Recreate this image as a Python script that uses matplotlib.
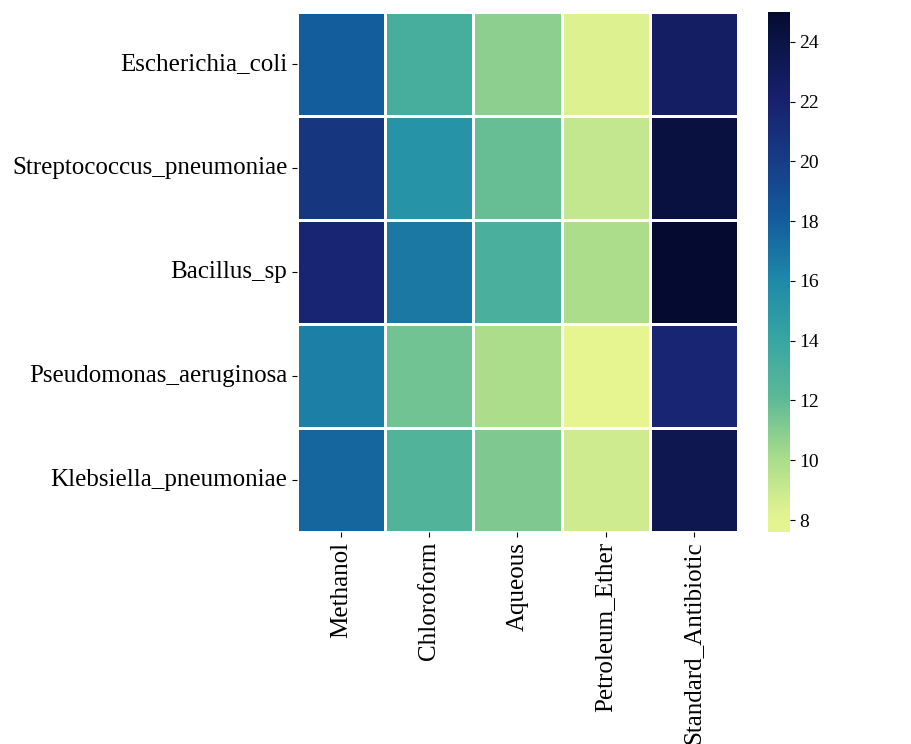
import numpy as np
import matplotlib
matplotlib.use("Agg")
import matplotlib.pyplot as plt
from matplotlib.colors import LinearSegmentedColormap
import seaborn as sns

bacteria = ["Escherichia_coli", "Streptococcus_pneumoniae", "Bacillus_sp",
            "Pseudomonas_aeruginosa", "Klebsiella_pneumoniae"]
extracts = ["Methanol", "Chloroform", "Aqueous", "Petroleum_Ether", "Standard_Antibiotic"]

# zone of inhibition values
methanol = [18.0, 20.5, 21.7, 16.4, 17.6]
chloroform = [13.2, 15.3, 16.8, 11.5, 12.7]
aqueous = [10.8, 11.8, 13.1, 10.0, 11.2]
petroleum_ether = [8.3, 9.2, 10.0, 7.6, 8.8]
standard_antibiotic = [22.5, 24.3, 25.0, 21.7, 23.5]

data = np.array([methanol, chloroform, aqueous, petroleum_ether, standard_antibiotic]).T

# YlGnBu-like colours as they look in the picture (a bit more saturated)
cb_vals = [7.5, 8, 10, 12, 14, 16, 18, 20, 22, 24, 25]
cb_cols = ["#e6f590", "#e2f391", "#a8dc8b", "#5cb996", "#37a5a3", "#1e88a8",
           "#135d9c", "#173c86", "#18216e", "#0a1446", "#050b30"]
lo, hi = cb_vals[0], cb_vals[-1]
cmap = LinearSegmentedColormap.from_list(
    "ylgnbu_pic", [((v - lo) / (hi - lo), c) for v, c in zip(cb_vals, cb_cols)])

plt.rcParams['font.family'] = ['Liberation Serif', 'DejaVu Serif']

fig = plt.figure(figsize=(9.11, 7.44), dpi=100)
ax = fig.add_axes([0.326, 0.285, 0.484, 0.699])
cax = fig.add_axes([0.843, 0.285, 0.024, 0.699])

sns.heatmap(data, ax=ax, cbar_ax=cax, cmap=cmap, linewidths=1, linecolor="white",
            xticklabels=extracts, yticklabels=bacteria)

ax.tick_params(axis='y', labelsize=18, rotation=0)
ax.tick_params(axis='x', labelsize=18, rotation=90)
cax.tick_params(labelsize=14)
cax.set_yticks(range(8, 25, 2))

fig.savefig("out.png", dpi=100)
